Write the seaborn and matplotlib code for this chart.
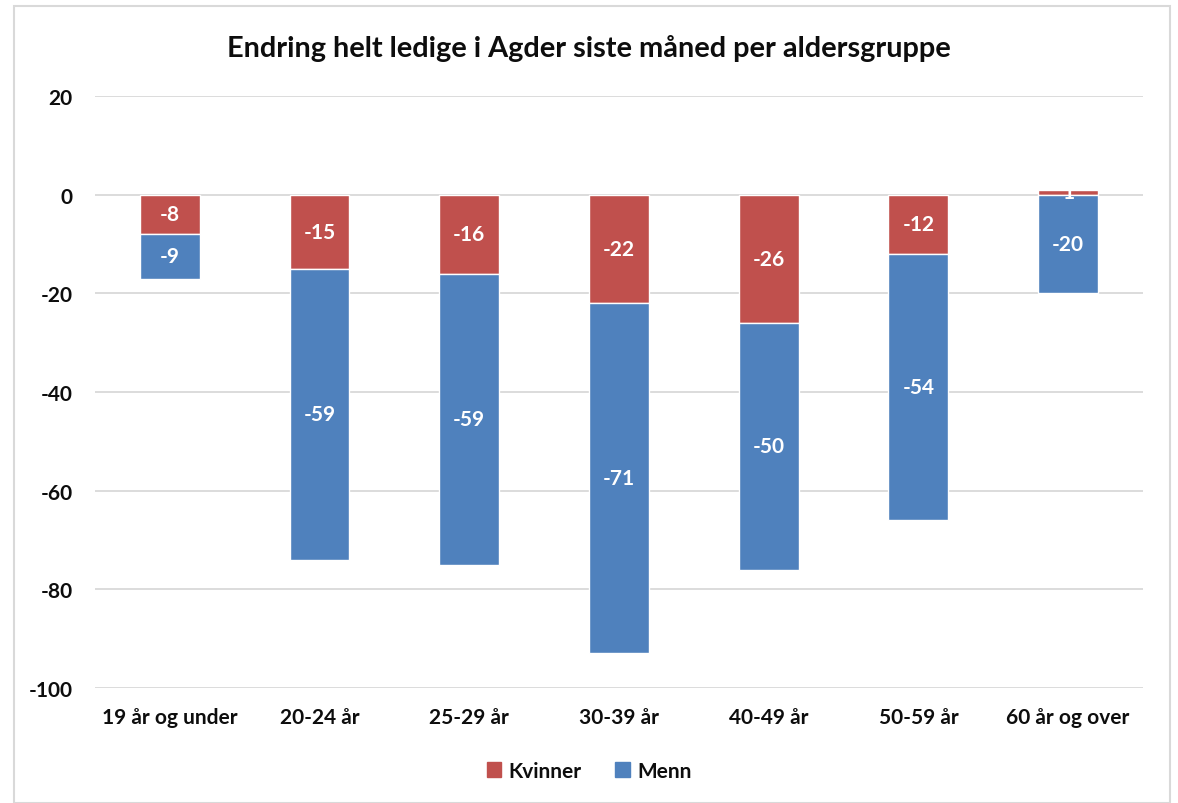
import matplotlib
matplotlib.use("Agg")
import matplotlib.pyplot as plt
import seaborn as sns
import numpy as np
from matplotlib.patches import Rectangle, Patch

categories = ["19 år og under", "20-24 år", "25-29 år", "30-39 år", "40-49 år", "50-59 år", "60 år og over"]
kvinner = [-8, -15, -16, -22, -26, -12, 1]
menn = [-9, -59, -59, -71, -50, -54, -20]
yticks = [20, 0, -20, -40, -60, -80, -100]

sns.set_theme(style="white")
plt.rcParams['font.family'] = ['Lato', 'DejaVu Sans']

RED = "#C0504D"
BLUE = "#4F81BD"
TXT = "#0d0d0d"

fig = plt.figure(figsize=(11.78, 8.04), dpi=100)
ax = fig.add_axes([0.0806, 0.1430, 0.8897, 0.7364])

menn_bottom = [min(k, 0) for k in kvinner]

sns.barplot(x=categories, y=kvinner, color=RED, width=0.4, saturation=1, ax=ax, zorder=3)
sns.barplot(x=categories, y=menn, bottom=menn_bottom, color=BLUE, width=0.4, saturation=1, ax=ax, zorder=3)

for i, (k, m, b) in enumerate(zip(kvinner, menn, menn_bottom)):
    ax.text(i, k / 2, f"{k}", ha="center", va="center", color="white", fontsize=15, fontweight="bold", zorder=5)
    ax.text(i, b + m / 2, f"{m}", ha="center", va="center", color="white", fontsize=15, fontweight="bold", zorder=5)

ax.set_ylim(-100, 20)
ax.set_xlim(-0.5, len(categories) - 0.5)
ax.set_yticks(yticks)
ax.set_yticklabels([str(t) for t in yticks], fontsize=15, fontweight="bold", color=TXT)
ax.set_xticks(range(len(categories)))
ax.set_xticklabels(categories, fontsize=15, fontweight="bold", color=TXT)
ax.tick_params(axis="y", length=0, pad=16)
ax.tick_params(axis="x", length=0, pad=14)
ax.yaxis.grid(True, color="#D9D9D9", linewidth=1.3, zorder=0)
ax.set_axisbelow(True)
for s in ax.spines.values():
    s.set_visible(False)
ax.set_xlabel("")
ax.set_ylabel("")

fig.text(0.5, 1 - 48 / 804, "Endring helt ledige i Agder siste måned per aldersgruppe",
         ha="center", va="center", fontsize=20.8, fontweight="bold", color=TXT)

handles = [Patch(facecolor=RED, edgecolor=RED), Patch(facecolor=BLUE, edgecolor=BLUE)]
fig.legend(handles, ["Kvinner", "Menn"], loc="center", bbox_to_anchor=(0.5, 1 - 772 / 804),
           ncol=2, frameon=False, handlelength=0.7, handleheight=0.7,
           handletextpad=0.35, columnspacing=1.6, prop={"weight": "bold", "size": 15})
for t in fig.legends[0].get_texts():
    t.set_color(TXT)

fig.patches.append(Rectangle((14 / 1178, 0), (1170 - 14) / 1178, 1 - 7 / 804,
                             transform=fig.transFigure, fill=False, edgecolor="#D9D9D9", linewidth=1.5))

fig.savefig("out.png", dpi=100)
